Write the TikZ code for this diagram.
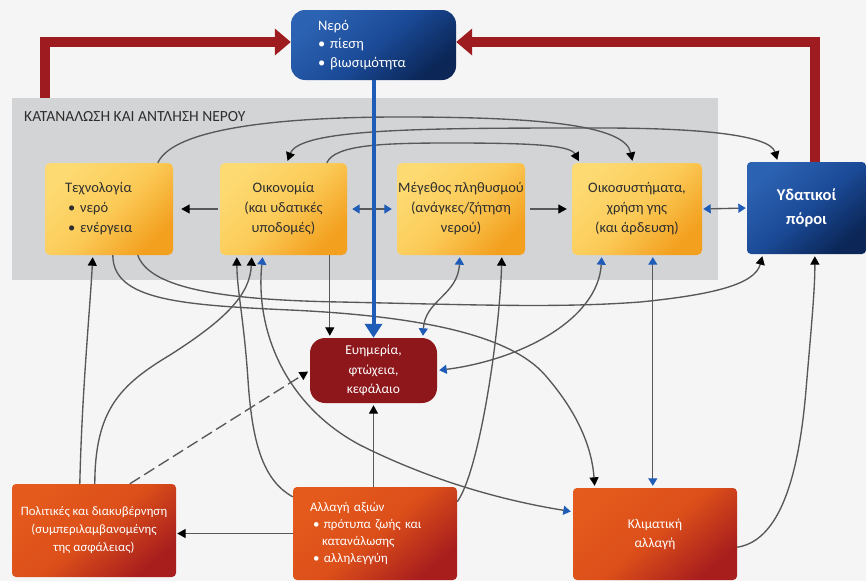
\documentclass[tikz,border=0pt]{standalone}
\usepackage{fontspec}
\setmainfont{Carlito}
\usetikzlibrary{arrows.meta}

\definecolor{pagebg}{HTML}{F5F5F5}
\definecolor{bandgray}{HTML}{D3D4D6}
\definecolor{txtdark}{HTML}{2E2E2E}
\definecolor{linegray}{HTML}{585858}
\definecolor{tipblue}{HTML}{1F5CB8}
\definecolor{flowblue}{HTML}{1F5CB8}
\definecolor{loopred}{HTML}{9E1B20}
\definecolor{wellred}{HTML}{8E171B}
\definecolor{yelA}{HTML}{FDDA72}
\definecolor{yelM}{HTML}{FBCB58}
\definecolor{yelB}{HTML}{F3A01F}
\definecolor{orA}{HTML}{E45A1C}
\definecolor{orM}{HTML}{DC4F1A}
\definecolor{orB}{HTML}{A81E1D}
\definecolor{blA}{HTML}{2C62B2}
\definecolor{blM}{HTML}{1B4B98}
\definecolor{blB}{HTML}{0B2657}

\tikzset{
  ybox/.style={rounded corners=5pt, top color=yelA, bottom color=yelB, middle color=yelM,
    shading angle=45, minimum height=92pt, inner sep=0pt, text=txtdark,
    font=\fontsize{14.5}{20}\selectfont, align=center},
  obox/.style={rounded corners=4pt, top color=orA, bottom color=orB, middle color=orM,
    shading angle=40, minimum height=93pt, inner sep=0pt, text=white,
    font=\fontsize{13}{18}\selectfont, align=center},
  bbox/.style={top color=blA, bottom color=blB, middle color=blM, shading angle=40,
    inner sep=0pt, text=white},
  link/.style={draw=linegray, line width=1.35pt},
  arrk/.style={-{Triangle[width=9pt,length=8.5pt,color=black]}, shorten >=2pt},
  arrb/.style={-{Triangle[width=9pt,length=7.5pt,color=tipblue]}, shorten >=2pt},
  dblb/.style={{Triangle[width=9pt,length=7.5pt,color=tipblue]}-{Triangle[width=9pt,length=7.5pt,color=tipblue]},
    shorten >=2pt, shorten <=2pt},
  dblk/.style={{Triangle[width=9pt,length=8.5pt,color=black]}-{Triangle[width=9pt,length=8.5pt,color=black]},
    shorten >=2pt, shorten <=2pt},
  loop/.style={draw=loopred, line width=10pt, -{Triangle[width=26pt,length=16pt]}},
}

\begin{document}
\begin{tikzpicture}[x=1pt,y=-1pt]
\useasboundingbox (0,0) rectangle (866,581);
\fill[pagebg] (0,0) rectangle (866,581);

% consumption band
\node[fill=bandgray, anchor=north west, minimum width=706pt, minimum height=182pt, inner sep=0pt] (band) at (12,98) {};
\node[anchor=west, inner sep=0pt, text=txtdark, font=\fontsize{15.5}{18}\selectfont] (bandtitle) at (24,117) {ΚΑΤΑΝΑΛΩΣΗ ΚΑΙ ΑΝΤΛΗΣΗ ΝΕΡΟΥ};

% boxes
\node[bbox, rounded corners=14pt, minimum width=165pt, minimum height=70pt, text width=111pt, align=left,
  font=\fontsize{14.5}{18.5}\selectfont] (nero) at (373.5,45) {Νερό\\• πίεση\\• βιωσιμότητα};

\node[ybox, minimum width=128pt, text width=88pt, align=left] (tech) at (109,209)
  {Τεχνολογία\\\hspace*{3pt}• νερό\\\hspace*{3pt}• ενέργεια};
\node[ybox, minimum width=127pt] (econ) at (283.5,209) {Οικονομία\\(και υδατικές\\υποδομές)};
\node[ybox, minimum width=128pt] (pop) at (461,209) {Μέγεθος πληθυσμού\\(ανάγκες/ζήτηση\\νερού)};
\node[ybox, minimum width=130pt] (eco) at (637,209) {Οικοσυστήματα,\\χρήση γης\\(και άρδευση)};
\node[bbox, rounded corners=4pt, minimum width=119pt, minimum height=92pt, align=center,
  font=\fontsize{16.5}{24}\selectfont\bfseries] (water) at (806.5,208) {Υδατικοί\\πόροι};

\node[fill=wellred, rounded corners=15pt, minimum width=127pt, minimum height=65pt, inner sep=0pt,
  text=white, align=center, font=\fontsize{13.5}{19.5}\selectfont] (prosp) at (373.5,370.5)
  {Ευημερία,\\φτώχεια,\\κεφάλαιο};

\node[obox, minimum width=164pt, font=\fontsize{12.8}{18}\selectfont] (policy) at (94,530.5)
  {Πολιτικές και διακυβέρνηση\\(συμπεριλαμβανομένης\\της ασφάλειας)};
\node[obox, minimum width=164pt, text width=130pt, align=left, font=\fontsize{13}{17}\selectfont] (values) at (375,533.5)
  {Αλλαγή αξιών\\\hspace*{3pt}• πρότυπα ζωής και\\\hspace*{12pt}κατανάλωσης\\\hspace*{3pt}• αλληλεγγύη};
\node[obox, minimum width=164pt, minimum height=92pt, font=\fontsize{13.5}{19}\selectfont] (climate) at (655,534)
  {Κλιματική\\αλλαγή};

% links along the band row
\draw[link, arrk, shorten >=8pt, shorten <=2pt] (econ.west) -- (tech.east);
\draw[link, dblb, shorten >=5pt, shorten <=5pt] (econ.east) -- (pop.west);
\draw[link, arrk, shorten >=5pt, shorten <=5pt] (pop.east) -- (eco.west);
\draw[link, dblb, shorten >=1pt, shorten <=1pt] (eco.east) -- (water.west);

% arcs above the band row
\draw[link, arrk] ([xshift=113pt]tech.north west) .. controls (175,125) and (300,117) .. (400,117)
  .. controls (540,117) and (625,125) .. ([xshift=61pt]eco.north west);
\draw[link, dblk] ([xshift=31pt]water.north west) .. controls (770,135) and (700,128) .. (600,128)
  .. controls (430,128) and (300,128) .. ([xshift=67pt]econ.north west);
\draw[link, arrk] ([xshift=107pt]econ.north west) .. controls (335,145) and (380,143) .. (450,143)
  .. controls (530,143) and (570,145) .. ([xshift=8pt]eco.north west);

% links below the band row
\draw[link, arrk] ([xshift=68pt]tech.south west) .. controls (113,300) and (180,305) .. (290,310)
  .. controls (420,316) and (510,335) .. (545,375)
  .. controls (580,415) and (592,450) .. ([xshift=22pt]climate.north west);
\draw[link, arrk] ([xshift=93pt]tech.south west) .. controls (150,290) and (230,300) .. (340,302)
  .. controls (480,305) and (560,308) .. (640,302)
  .. controls (710,295) and (755,285) .. ([xshift=16pt]water.south west);
\draw[link, arrk] ([xshift=68pt]policy.north west) .. controls (82,390) and (90,310) .. ([xshift=48pt]tech.south west);
\draw[link, arrk] ([xshift=83pt]policy.north west) .. controls (95,410) and (120,385) .. (170,355)
  .. controls (225,320) and (250,295) .. ([xshift=32pt]econ.south west);
\draw[link, arrk, dash pattern=on 12pt off 5pt] ([xshift=118pt]policy.north west) -- (prosp.west);
\draw[link, arrk] ([yshift=-10pt]values.north west) .. controls (262,480) and (252,440) .. (248,380)
  .. controls (244,320) and (237,290) .. ([xshift=17pt]econ.south west);
\draw[link, dblb] ([xshift=43pt]econ.south west) .. controls (255,330) and (285,405) .. (360,445)
  .. controls (430,480) and (500,500) .. ([yshift=-24pt]climate.north west);
\draw[link, arrk] ([xshift=110pt]econ.south west) -- ([xshift=110pt]econ.south west |- prosp.north);
\draw[link, dblb] ([xshift=63pt]pop.south west) .. controls (458,295) and (425,300) .. ([xshift=113pt]prosp.north west);
\draw[link, arrk] ([yshift=-15pt]values.north east) .. controls (480,470) and (500,330) .. ([xshift=105pt]pop.south west);
\draw[link, dblb] ([xshift=30pt]eco.south west) .. controls (598,320) and (520,360) .. (prosp.east);
\draw[link, dblb] ([xshift=81pt]eco.south west) -- ([xshift=81pt]eco.south west |- climate.north);
\draw[link, arrk] ([yshift=33pt]climate.south east) .. controls (785,540) and (800,460) .. (806,390)
  .. controls (811,330) and (815,290) .. ([xshift=68pt]water.south west);
\draw[link, arrk, shorten >=1pt] (values.west) -- (values.west -| policy.east);
\draw[link, arrk] (values.north -| prosp.south) -- (prosp.south);

% main water flow
\draw[draw=flowblue, line width=4pt, -{Triangle[width=17pt,length=14pt]}] (nero.south) -- (prosp.north);

% feedback loops to the water box
\draw[loop] ([xshift=33pt]band.north west) |- ([yshift=3pt]nero.west);
\draw[loop] ([xshift=68pt]water.north west) |- ([yshift=3pt]nero.east);
\end{tikzpicture}
\end{document}
